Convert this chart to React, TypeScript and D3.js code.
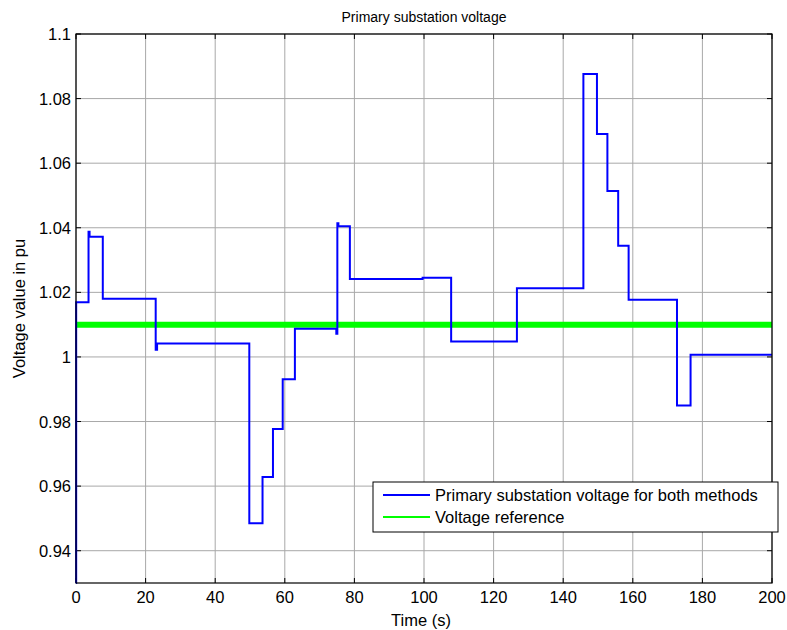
import React from "react";
import * as d3 from "d3";

const stepTimes = [0, 0.05, 3.6, 3.9, 7.7, 22.9, 23.3, 49.8, 53.6, 56.6, 59.4, 62.9, 74.8, 75.1, 75.4, 78.7, 99.6, 107.8, 126.7, 145.8, 149.7, 152.7, 155.8, 158.8, 172.7, 176.6, 200];
const stepValues = [0.93, 1.0169, 1.0388, 1.0372, 1.018, 1.0022, 1.0042, 0.9485, 0.9628, 0.9777, 0.9931, 1.0087, 1.0072, 1.0414, 1.0405, 1.0241, 1.0245, 1.0048, 1.0213, 1.0876, 1.069, 1.0514, 1.0344, 1.0177, 0.985, 1.0007, 1.0007];
const refTimes = [0, 200];
const refValues = [1.01, 1.01];
const xTicks = [0, 20, 40, 60, 80, 100, 120, 140, 160, 180, 200];
const yTicks = [0.94, 0.96, 0.98, 1.0, 1.02, 1.04, 1.06, 1.08, 1.1];
const seriesNames = ["Primary substation voltage for both methods", "Voltage reference"];

const W = 787, H = 630;
const L = 76, R = 772, T = 34, B = 583;
const FONT = "'Liberation Sans', Arial, sans-serif";
const FS = 16.5;

export default function App() {
  const x = d3.scaleLinear().domain([0, 200]).range([L, R]);
  const y = d3.scaleLinear().domain([0.93, 1.1]).range([B, T]);
  const pts: [number, number][] = stepTimes.map((t, i) => [t, stepValues[i]]);
  const line = d3.line<[number, number]>().x(d => x(d[0])).y(d => y(d[1])).curve(d3.curveStepAfter);
  const refLine = d3.line<[number, number]>().x(d => x(d[0])).y(d => y(d[1]));
  const refPts: [number, number][] = refTimes.map((t, i) => [t, refValues[i]]);
  const fmt = (v: number) => (Math.abs(v - 1) < 1e-9 ? "1" : String(+v.toFixed(2)));

  const legX = 373, legY = 482, legW = 405, legH = 50;

  return (
    <svg width={W} height={H} style={{ position: "absolute", left: 0, top: 0, background: "#fff" }} fontFamily={FONT}>
      <rect x={0} y={0} width={W} height={H} fill="#fff" />
      {xTicks.map(t => (
        <line key={"gx" + t} x1={x(t)} x2={x(t)} y1={T} y2={B} stroke="#a8a8a8" strokeWidth={1} />
      ))}
      {yTicks.map(t => (
        <line key={"gy" + t} x1={L} x2={R} y1={y(t)} y2={y(t)} stroke="#a8a8a8" strokeWidth={1} />
      ))}
      {xTicks.map(t => (
        <g key={"tx" + t}>
          <line x1={x(t)} x2={x(t)} y1={B} y2={B - 5} stroke="#000" />
          <line x1={x(t)} x2={x(t)} y1={T} y2={T + 5} stroke="#000" />
          <text x={x(t)} y={603} textAnchor="middle" fontSize={FS} fill="#000">{t}</text>
        </g>
      ))}
      {yTicks.map(t => (
        <g key={"ty" + t}>
          <line x1={L} x2={L + 5} y1={y(t)} y2={y(t)} stroke="#000" />
          <line x1={R} x2={R - 5} y1={y(t)} y2={y(t)} stroke="#000" />
          <text x={71} y={y(t) + 6} textAnchor="end" fontSize={FS} fill="#000">{fmt(t)}</text>
        </g>
      ))}
      <path d={refLine(refPts) || ""} fill="none" stroke="#00ff00" strokeWidth={6} />
      <path d={line(pts) || ""} fill="none" stroke="#0000ff" strokeWidth={2} />
      <rect x={L} y={T} width={R - L} height={B - T} fill="none" stroke="#000" strokeWidth={1.2} />
      <text x={(L + R) / 2} y={22} textAnchor="middle" fontSize={14} fill="#000">Primary substation voltage</text>
      <text x={421} y={626} textAnchor="middle" fontSize={FS} fill="#000">Time (s)</text>
      <text transform={`translate(25,${(T + B) / 2}) rotate(-90)`} textAnchor="middle" fontSize={FS} fill="#000">Voltage value in pu</text>
      <rect x={legX} y={legY} width={legW} height={legH} fill="#fff" stroke="#000" strokeWidth={1} />
      <line x1={383} x2={430} y1={495} y2={495} stroke="#0000ff" strokeWidth={2} />
      <line x1={383} x2={430} y1={517} y2={517} stroke="#00ff00" strokeWidth={2} />
      <text x={435} y={501} fontSize={FS} fill="#000">{seriesNames[0]}</text>
      <text x={435} y={523} fontSize={FS} fill="#000">{seriesNames[1]}</text>
    </svg>
  );
}
